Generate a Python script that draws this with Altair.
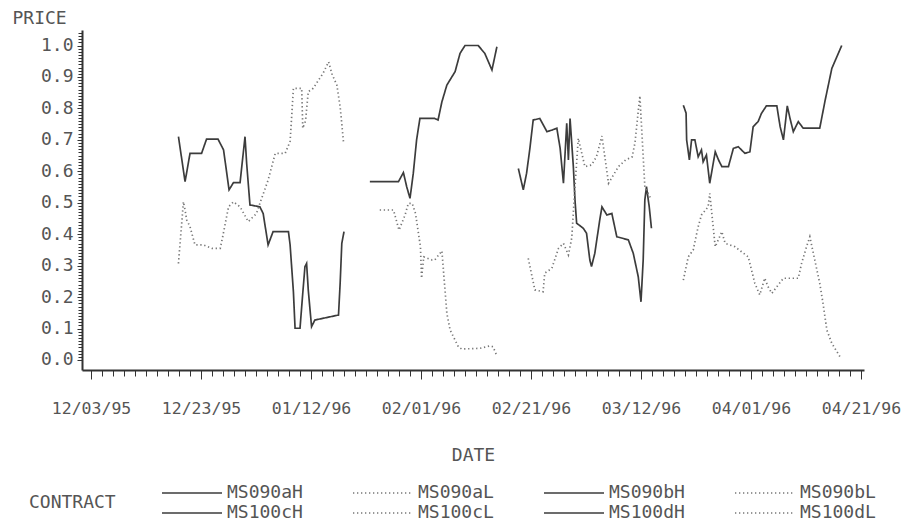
import altair as alt
import pandas as pd

START = "1995-12-03"
CONTRACTS = ["MS090aH", "MS090aL", "MS090bH", "MS090bL",
             "MS100cH", "MS100cL", "MS100dH", "MS100dL"]

# day offsets since 12/03/95 and prices
MS090aH_DAY = [15.9, 17.1, 18.0, 20.1, 21.0, 23.1, 24.1, 25.1, 25.9, 27.1, 28.0, 28.3, 28.9, 30.7, 31.3,
               32.2, 33.1, 35.9, 36.2, 36.8, 37.1, 38.0, 38.5, 38.9, 39.2, 39.5, 40.1, 40.7, 45.0, 45.3,
               45.6, 46.0]
MS090aH_PRICE = [0.71, 0.567, 0.657, 0.657, 0.702, 0.702, 0.668, 0.541, 0.564, 0.564, 0.71, 0.625, 0.493,
                 0.487, 0.466, 0.366, 0.408, 0.408, 0.366, 0.217, 0.101, 0.101, 0.212, 0.297, 0.307, 0.223,
                 0.106, 0.127, 0.143, 0.244, 0.371, 0.408]

MS090aL_DAY = [15.9, 16.8, 17.1, 17.4, 18.0, 18.9, 20.4, 22.0, 23.5, 24.0, 25.0, 25.9, 27.1, 28.6, 30.1,
               30.8, 32.2, 33.5, 35.3, 36.2, 36.8, 38.3, 38.5, 39.0, 39.5, 40.4, 42.2, 43.2, 43.8, 44.7,
               45.3, 45.9]
MS090aL_PRICE = [0.307, 0.503, 0.477, 0.445, 0.424, 0.366, 0.366, 0.355, 0.355, 0.397, 0.487, 0.503, 0.487,
                 0.44, 0.466, 0.503, 0.572, 0.657, 0.657, 0.695, 0.864, 0.864, 0.737, 0.76, 0.853, 0.864,
                 0.912, 0.948, 0.91, 0.874, 0.805, 0.694]

MS090bH_DAY = [50.7, 55.9, 56.8, 57.4, 58.0, 58.6, 59.2, 59.8, 62.5, 63.1, 63.8, 64.7, 66.2, 67.1, 68.0,
               70.4, 71.6, 72.9, 73.8]
MS090bH_PRICE = [0.567, 0.567, 0.596, 0.551, 0.514, 0.594, 0.70, 0.768, 0.768, 0.763, 0.821, 0.874, 0.917,
                 0.975, 1.0, 1.0, 0.975, 0.922, 0.996]

MS090bL_DAY = [52.5, 55.0, 56.0, 57.1, 57.7, 58.4, 59.0, 59.9, 60.1, 60.5, 62.0, 62.5, 63.8, 64.2, 64.7,
               65.3, 66.8, 67.4, 70.7, 72.5, 73.1, 73.8]
MS090bL_PRICE = [0.477, 0.477, 0.413, 0.461, 0.498, 0.498, 0.466, 0.36, 0.26, 0.328, 0.318, 0.318, 0.347,
                 0.26, 0.148, 0.095, 0.042, 0.035, 0.037, 0.045, 0.042, 0.013]

MS100cH_DAY = [77.7, 78.6, 79.2, 79.8, 80.4, 81.6, 82.9, 83.8, 84.7, 85.3, 85.9, 86.5, 86.8, 87.1, 87.7,
               88.0, 88.3, 89.5, 90.1, 90.7, 91.0, 91.6, 92.5, 92.9, 93.8, 94.7, 95.6, 97.7, 98.6, 99.5,
               100.0, 100.4, 100.7, 101.0, 101.5, 101.9]
MS100cH_PRICE = [0.609, 0.541, 0.594, 0.673, 0.763, 0.768, 0.726, 0.731, 0.737, 0.673, 0.562, 0.753, 0.636,
                 0.768, 0.615, 0.509, 0.435, 0.419, 0.403, 0.318, 0.297, 0.339, 0.445, 0.487, 0.461, 0.466,
                 0.392, 0.382, 0.339, 0.265, 0.185, 0.318, 0.509, 0.551, 0.487, 0.419]

MS100cL_DAY = [79.5, 80.7, 82.2, 82.5, 83.8, 85.0, 85.9, 86.8, 87.4, 88.0, 88.6, 89.8, 91.0, 91.9, 92.9,
               94.1, 95.9, 97.2, 98.4, 98.9, 99.8, 100.7, 101.9]
MS100cL_PRICE = [0.323, 0.223, 0.217, 0.276, 0.292, 0.355, 0.371, 0.334, 0.387, 0.551, 0.705, 0.615, 0.62,
                 0.646, 0.712, 0.562, 0.615, 0.636, 0.646, 0.69, 0.84, 0.551, 0.509]

MS100dH_DAY = [107.7, 108.2, 108.3, 108.8, 109.2, 109.8, 110.4, 111.0, 111.3, 111.9, 112.5, 113.5, 114.1,
               114.7, 115.9, 116.8, 117.7, 118.9, 119.8, 120.4, 121.3, 121.9, 122.8, 124.7, 125.3, 125.9,
               126.6, 127.1, 127.7, 128.6, 129.5, 132.5, 133.5, 134.7, 136.5]
MS100dH_PRICE = [0.81, 0.785, 0.70, 0.636, 0.70, 0.70, 0.646, 0.668, 0.63, 0.652, 0.562, 0.662, 0.636,
                 0.615, 0.615, 0.673, 0.678, 0.657, 0.662, 0.742, 0.758, 0.784, 0.808, 0.808, 0.742, 0.70,
                 0.808, 0.768, 0.726, 0.758, 0.737, 0.737, 0.827, 0.927, 1.0]

MS100dL_DAY = [107.7, 108.6, 109.5, 110.4, 111.0, 112.2, 112.5, 113.5, 114.7, 115.3, 117.1, 119.5, 120.1,
               120.7, 121.6, 122.5, 123.1, 123.8, 124.7, 125.9, 128.6, 129.2, 130.1, 130.7, 131.6, 132.5,
               133.1, 133.8, 134.7, 136.2]
MS100dL_PRICE = [0.254, 0.328, 0.35, 0.424, 0.461, 0.487, 0.53, 0.36, 0.408, 0.371, 0.36, 0.328, 0.286,
                 0.244, 0.207, 0.26, 0.233, 0.212, 0.233, 0.26, 0.26, 0.307, 0.36, 0.392, 0.318, 0.244,
                 0.18, 0.095, 0.053, 0.01]

TICK_DATES = ["1995-12-03", "1995-12-23", "1996-01-12", "1996-02-01",
              "1996-02-21", "1996-03-12", "1996-04-01", "1996-04-21"]
Y_TICKS = [0.0, 0.1, 0.2, 0.3, 0.4, 0.5, 0.6, 0.7, 0.8, 0.9, 1.0]

SERIES = {
    "MS090aH": (MS090aH_DAY, MS090aH_PRICE),
    "MS090aL": (MS090aL_DAY, MS090aL_PRICE),
    "MS090bH": (MS090bH_DAY, MS090bH_PRICE),
    "MS090bL": (MS090bL_DAY, MS090bL_PRICE),
    "MS100cH": (MS100cH_DAY, MS100cH_PRICE),
    "MS100cL": (MS100cL_DAY, MS100cL_PRICE),
    "MS100dH": (MS100dH_DAY, MS100dH_PRICE),
    "MS100dL": (MS100dL_DAY, MS100dL_PRICE),
}

t0 = pd.Timestamp(START, tz="UTC")
rows = []
for name in CONTRACTS:
    days, prices = SERIES[name]
    for d, p in zip(days, prices):
        t = t0 + pd.Timedelta(days=d)
        rows.append({"contract": name, "date": t.strftime("%Y-%m-%dT%H:%M:%SZ"), "price": p})
df = pd.DataFrame(rows)


def ms(ts):
    return int(ts.value // 10**6)


x_major = [ms(pd.Timestamp(s, tz="UTC")) for s in TICK_DATES]
x_minor = [ms(t0 + pd.Timedelta(days=k)) for k in range(0, 141, 2)]
x_domain = [ms(t0 - pd.Timedelta(days=1.64)), ms(t0 + pd.Timedelta(days=140.55))]
y_minor = [round(k * 0.01, 2) for k in range(0, 105)]

FONT = "DejaVu Sans Mono"
FS = 18
TXT = "#555555"
AX = "#333333"

x_scale = alt.Scale(type="utc", domain=x_domain, nice=False)
y_scale = alt.Scale(domain=[-0.0318, 1.0493], nice=False, zero=False)

is_h = [c.endswith("H") for c in CONTRACTS]
colors = ["#3c3c3c" if h else "#777777" for h in is_h]
dashes = [[1, 0] if h else [1.3, 2.7] for h in is_h]

lines = alt.Chart(df).mark_line(strokeWidth=1.7, interpolate="linear").encode(
    x=alt.X("date:T", scale=x_scale,
            axis=alt.Axis(orient="bottom", values=x_major,
                          labelExpr="utcFormat(datum.value, '%m/%d/%y')", labelFontSize=16.5,
                          tickSize=9, tickWidth=1, tickColor=AX, domainColor=AX, domainWidth=2,
                          labelPadding=21, grid=False, title="DATE", titleX=391, titleY=85,
                          titleAlign="center", titleBaseline="middle", titleFontWeight="normal")),
    y=alt.Y("price:Q", scale=y_scale,
            axis=alt.Axis(orient="left", values=Y_TICKS, format=".1f", tickSize=5, tickWidth=1,
                          tickColor=AX, domainColor=AX, domainWidth=2, labelPadding=4, grid=False,
                          title="PRICE", titleAngle=0, titleAlign="left", titleBaseline="middle",
                          titleX=-70, titleY=-11.5, titleFontWeight="normal")),
    color=alt.Color("contract:N", scale=alt.Scale(domain=CONTRACTS, range=colors),
                    legend=alt.Legend(title="CONTRACT", orient="none", legendX=-53, legendY=454,
                                      direction="horizontal", columns=4, titleOrient="left",
                                      titlePadding=46, columnPadding=46, rowPadding=2, padding=0,
                                      symbolType="M-6,0H6", symbolSize=100, symbolStrokeWidth=1.7,
                                      symbolOffset=21, labelOffset=26, gridAlign="each")),
    strokeDash=alt.StrokeDash("contract:N", scale=alt.Scale(domain=CONTRACTS, range=dashes)),
    detail="contract:N",
)

minor = alt.Chart(df).mark_point(opacity=0).encode(
    x=alt.X("date:T", scale=x_scale,
            axis=alt.Axis(orient="bottom", values=x_minor, labels=False, domain=False, tickSize=6,
                          tickWidth=1, tickColor=AX, grid=False, title=None)),
    y=alt.Y("price:Q", scale=y_scale,
            axis=alt.Axis(orient="left", values=y_minor, labels=False, domain=False, tickSize=4,
                          tickWidth=1, tickColor=AX, grid=False, title=None)),
)

chart = alt.layer(lines, minor).resolve_axis(x="independent", y="independent").properties(
    width=782, height=340, autosize="none",
    padding={"left": 74, "top": 22, "right": 37, "bottom": 153},
).configure(
    background="white",
).configure_view(stroke=None).configure_axis(
    labelFont=FONT, labelFontSize=FS, labelColor=TXT, titleFont=FONT, titleFontSize=FS, titleColor=TXT,
).configure_legend(
    labelFont=FONT, labelFontSize=FS, labelColor=TXT, titleFont=FONT, titleFontSize=FS, titleColor=TXT,
    titleFontWeight="normal", labelLimit=200,
)

chart.save("out.html", embed_options={"renderer": "svg", "actions": False})
